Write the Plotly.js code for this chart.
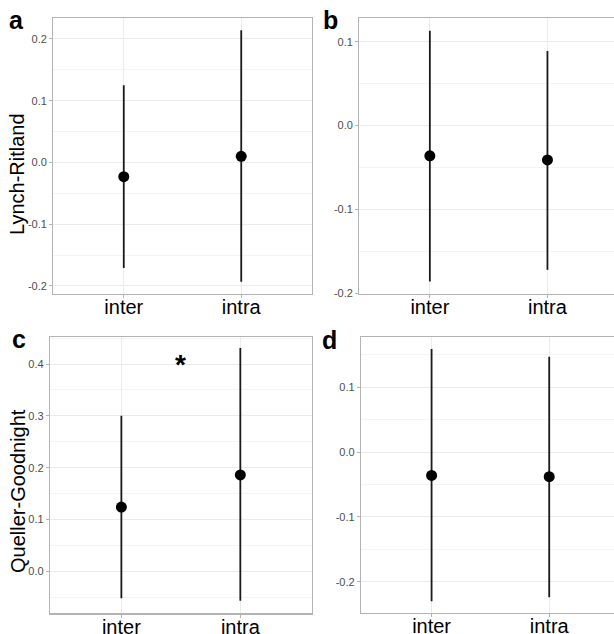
<!DOCTYPE html>
<html>
<head>
<meta charset="utf-8">
<script src="https://cdn.plot.ly/plotly-3.0.1.min.js"></script>
<style>
html, body { margin: 0; padding: 0; overflow: hidden; background: #fff; }
#chart { width: 622px; height: 634px; }
</style>
</head>
<body>
<div id="chart"></div>
<script>
// ---- data ----
var categories = ['inter', 'intra'];

// panel a : Lynch-Ritland (left)
var aMean = [-0.023, 0.010];
var aLow  = [-0.171, -0.193];
var aHigh = [0.125, 0.214];
var aTicks = [-0.2, -0.1, 0.0, 0.1, 0.2];
var aTickText = ['-0.2', '-0.1', '0.0', '0.1', '0.2'];

// panel b : Lynch-Ritland (right)
var bMean = [-0.036, -0.041];
var bLow  = [-0.186, -0.172];
var bHigh = [0.113, 0.089];
var bTicks = [-0.2, -0.1, 0.0, 0.1];
var bTickText = ['-0.2', '-0.1', '0.0', '0.1'];

// panel c : Queller-Goodnight (left)
var cMean = [0.124, 0.186];
var cLow  = [-0.052, -0.057];
var cHigh = [0.300, 0.431];
var cTicks = [0.0, 0.1, 0.2, 0.3, 0.4];
var cTickText = ['0.0', '0.1', '0.2', '0.3', '0.4'];

// panel d : Queller-Goodnight (right)
var dMean = [-0.036, -0.038];
var dLow  = [-0.230, -0.224];
var dHigh = [0.159, 0.147];
var dTicks = [-0.2, -0.1, 0.0, 0.1];
var dTickText = ['-0.2', '-0.1', '0.0', '0.1'];

var panelLetters = ['a', 'b', 'c', 'd'];
var yTitles = ['Lynch-Ritland', 'Queller-Goodnight'];
var sigLabel = '*';
var sigY = 0.4;

// ---- layout helpers ----
var W = 622, H = 634;
var FONT = '"Liberation Sans", Arial, Helvetica, sans-serif';

function trace(mean, low, high, xa, ya) {
  var up = mean.map(function (m, i) { return high[i] - m; });
  var dn = mean.map(function (m, i) { return m - low[i]; });
  return {
    type: 'scatter', mode: 'markers',
    x: categories, y: mean, xaxis: xa, yaxis: ya,
    marker: { color: '#000000', size: 11 },
    error_y: { type: 'data', symmetric: false, array: up, arrayminus: dn,
               color: '#1a1a1a', thickness: 1.8, width: 0 },
    showlegend: false, hoverinfo: 'skip'
  };
}

function xax(domain, anchor) {
  return {
    domain: domain, anchor: anchor, type: 'category',
    range: [-0.6, 1.6],
    showgrid: true, gridcolor: '#ebebeb', gridwidth: 1,
    showline: true, linecolor: '#b3b3b3', linewidth: 1.2, mirror: true,
    ticks: 'outside', ticklen: 3, tickcolor: '#b3b3b3', tickwidth: 1,
    ticklabelstandoff: -8,
    tickfont: { family: FONT, size: 20, color: '#000000' },
    zeroline: false, fixedrange: true
  };
}

function yax(domain, anchor, range, tv, tt) {
  return {
    domain: domain, anchor: anchor, range: range,
    tickmode: 'array', tickvals: tv, ticktext: tt,
    showgrid: true, gridcolor: '#ebebeb', gridwidth: 1,
    minor: { dtick: 0.05, tick0: 0, showgrid: true, gridcolor: '#f4f4f4', gridwidth: 1, ticks: '' },
    showline: true, linecolor: '#b3b3b3', linewidth: 1.2, mirror: true,
    ticks: 'outside', ticklen: 3, tickcolor: '#b3b3b3', tickwidth: 1,
    tickfont: { family: FONT, size: 11, color: '#4d4d4d' },
    zeroline: false, fixedrange: true
  };
}

function px(x) { return x / W; }
function py(y) { return 1 - y / H; }

var data = [
  trace(aMean, aLow, aHigh, 'x', 'y'),
  trace(bMean, bLow, bHigh, 'x2', 'y2'),
  trace(cMean, cLow, cHigh, 'x3', 'y3'),
  trace(dMean, dLow, dHigh, 'x4', 'y4')
];

var layout = {
  width: W, height: H,
  margin: { l: 0, r: 0, t: 0, b: 0 },
  paper_bgcolor: '#ffffff', plot_bgcolor: '#ffffff',
  font: { family: FONT },
  xaxis:  xax([px(53.3), px(311.7)], 'y'),
  yaxis:  yax([py(294), py(18.3)], 'x', [-0.213, 0.2335], aTicks, aTickText),
  xaxis2: xax([px(359.3), px(618)], 'y2'),
  yaxis2: yax([py(294), py(18.3)], 'x2', [-0.2008, 0.1279], bTicks, bTickText),
  xaxis3: xax([px(50), px(311.7)], 'y3'),
  yaxis3: yax([py(613.3), py(336.7)], 'x3', [-0.081, 0.4527], cTicks, cTickText),
  xaxis4: xax([px(361), px(619.8)], 'y4'),
  yaxis4: yax([py(612.7), py(336.7)], 'x4', [-0.2478, 0.178], dTicks, dTickText),
  annotations: [
    { text: '<b>' + panelLetters[0] + '</b>', xref: 'paper', yref: 'paper', x: px(16.5), y: py(20), xanchor: 'center', yanchor: 'middle', showarrow: false, font: { family: FONT, size: 25, color: '#000' } },
    { text: '<b>' + panelLetters[1] + '</b>', xref: 'paper', yref: 'paper', x: px(330.5), y: py(20), xanchor: 'center', yanchor: 'middle', showarrow: false, font: { family: FONT, size: 25, color: '#000' } },
    { text: '<b>' + panelLetters[2] + '</b>', xref: 'paper', yref: 'paper', x: px(18.5), y: py(339), xanchor: 'center', yanchor: 'middle', showarrow: false, font: { family: FONT, size: 25, color: '#000' } },
    { text: '<b>' + panelLetters[3] + '</b>', xref: 'paper', yref: 'paper', x: px(329.5), y: py(340), xanchor: 'center', yanchor: 'middle', showarrow: false, font: { family: FONT, size: 25, color: '#000' } },
    { text: yTitles[0], xref: 'paper', yref: 'paper', x: px(17), y: py(174), xanchor: 'center', yanchor: 'middle', textangle: -90, showarrow: false, font: { family: FONT, size: 20, color: '#000' } },
    { text: yTitles[1], xref: 'paper', yref: 'paper', x: px(18), y: py(491), xanchor: 'center', yanchor: 'middle', textangle: -90, showarrow: false, font: { family: FONT, size: 20, color: '#000' } },
    { text: '<b>' + sigLabel + '</b>', xref: 'x3', yref: 'y3', x: 0.5, y: sigY, yshift: 0, xanchor: 'center', yanchor: 'middle', showarrow: false, font: { family: FONT, size: 28, color: '#000' } }
  ]
};

Plotly.newPlot('chart', data, layout, { staticPlot: true, displayModeBar: false });
</script>
</body>
</html>
